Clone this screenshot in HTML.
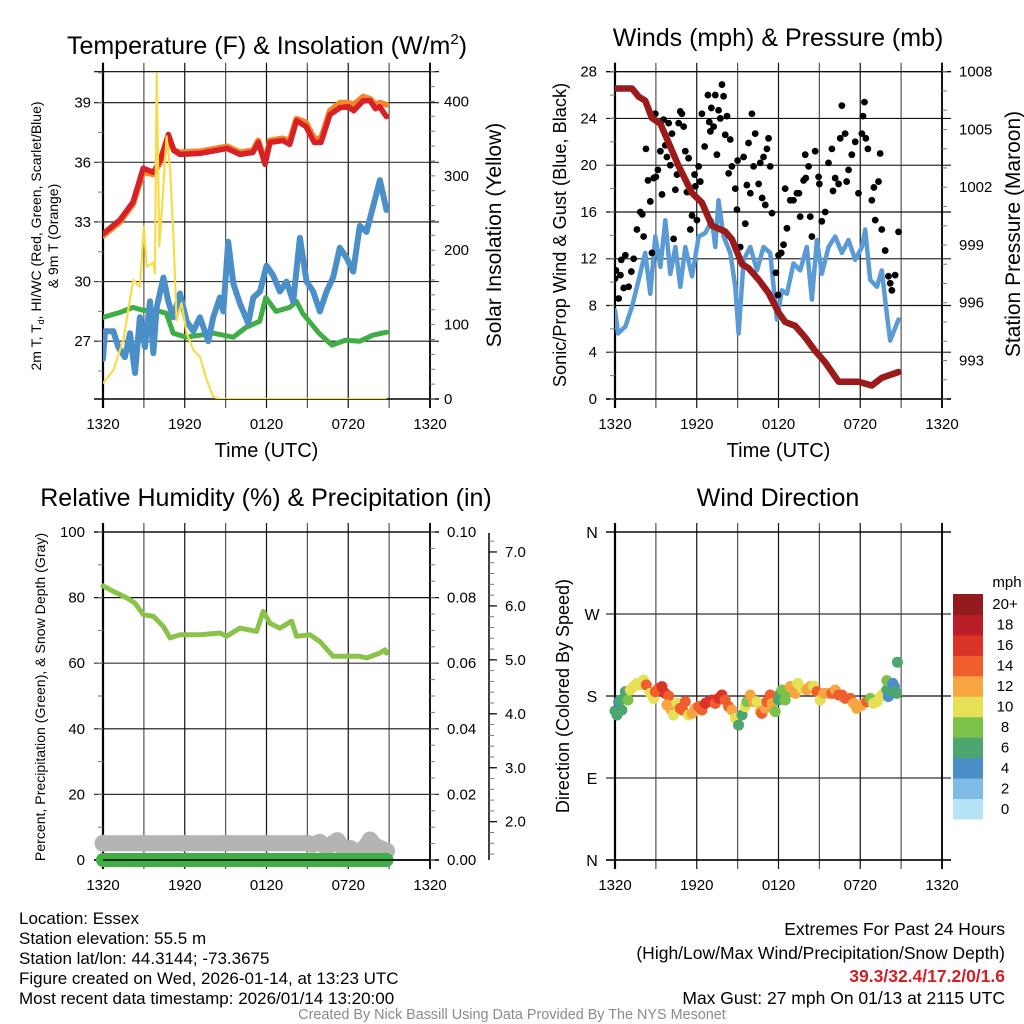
<!DOCTYPE html>
<html><head><meta charset="utf-8">
<style>
html,body{margin:0;padding:0;background:#fff;}
svg{display:block;font-family:"Liberation Sans",Arial,sans-serif;}
</style></head>
<body>
<svg id="chart" width="1024" height="1024" viewBox="0 0 1024 1024" xmlns="http://www.w3.org/2000/svg">
<defs>
<clipPath id="c1"><rect x="103" y="71.7" width="327" height="327.3"/></clipPath>
<clipPath id="c2"><rect x="615" y="71.7" width="327" height="327.3"/></clipPath>
<clipPath id="c3"><rect x="90" y="520" width="360" height="355"/></clipPath>
<clipPath id="c4"><rect x="608" y="532" width="340" height="328"/></clipPath>
</defs>
</svg>
<script>
// ---------- DATA ----------
const xTickLabels = ["1320","1920","0120","0720","1320"];
// Panel 1: temperatures (F) & insolation
const tempHours = [0,1.25,2.2,2.95,3.7,4.2,4.8,5.2,5.65,7.1,9.1,10.05,11.0,11.4,11.9,12.25,13.2,13.7,14.2,14.9,15.5,16.0,16.65,17.4,18.0,18.4,19.1,19.6,20.0,20.3,20.8];
const tempRed = [32.4,33.1,34.0,35.7,35.5,36.1,37.4,36.6,36.4,36.45,36.7,36.4,36.5,37.0,35.9,37.0,37.1,36.9,38.1,37.8,37.0,37.0,38.4,38.75,38.8,38.6,39.1,39.1,38.7,38.8,38.3];
const temp9m = [32.3,33.0,33.9,35.5,35.4,36.0,37.2,36.6,36.5,36.55,36.8,36.5,36.6,37.1,36.0,37.1,37.2,37.1,38.2,38.0,37.2,37.2,38.6,39.0,39.0,38.9,39.3,39.2,38.9,39.0,38.9];
const dewHours = [0,1.25,2.2,2.95,3.9,4.65,5.15,6.1,8.1,9.55,10.5,11.5,11.95,12.7,13.7,14.2,14.65,15.85,16.8,17.8,18.85,19.8,20.8];
const dewVals = [28.2,28.45,28.7,28.55,28.55,28.4,27.4,27.2,27.4,27.2,27.7,28.0,29.2,28.5,28.7,29.0,28.4,27.4,26.8,27.05,27.0,27.3,27.45];
const wcHours = [0,0.15,0.76,1.12,1.61,1.98,2.35,2.71,3.08,3.45,3.69,3.94,4.43,4.79,5.16,5.65,6.14,6.63,7.11,7.73,8.09,8.58,8.83,9.19,9.56,10.05,10.66,11.03,11.52,12.0,12.49,12.98,13.47,13.96,14.45,14.94,15.43,15.92,16.41,16.89,17.38,17.87,18.36,18.85,19.34,19.83,20.32,20.81];
const wcVals = [26.1,27.5,27.5,26.7,26.2,27.4,25.4,28.2,26.7,29.0,26.4,28.7,30.2,29.0,28.2,29.4,28.0,27.5,28.2,27.0,28.2,29.2,28.5,32.0,29.9,28.9,27.9,29.2,29.5,30.8,30.3,29.5,30.0,29.0,32.2,30.0,29.5,28.5,29.5,30.2,31.7,31.2,30.5,32.8,32.5,33.8,35.1,33.6];
const solHours = [0,0.76,1.49,2.22,2.71,3.0,3.2,3.69,3.81,3.94,4.13,4.43,4.67,4.91,5.16,5.4,5.77,6.14,6.63,7.11,7.6,8.09,8.58,20.81];
const solVals = [21,39,79,160,151,232,178,183,169,438,205,286,353,312,223,106,129,88,66,57,26,3,0,0];
// Panel 2: winds & pressure
const windHours = [0,0.22,0.76,1.25,1.74,2.22,2.59,2.96,3.33,3.69,4.06,4.43,4.79,5.16,5.65,6.14,6.63,7.11,7.36,7.6,7.97,8.46,8.83,9.07,9.44,9.93,10.42,10.9,11.39,11.88,12.25,12.62,13.1,13.59,14.08,14.45,14.82,15.18,15.67,16.16,16.65,17.14,17.63,18.12,18.36,18.73,19.22,19.58,19.95,20.2,20.81];
const windVals = [7.6,5.6,6.2,7.9,10.2,12.5,9.0,13.9,11.3,15.3,10.7,13.0,9.6,13.0,10.5,13.9,14.2,15.3,13.0,17.0,13.9,12.5,9.6,5.6,11.9,13.0,11.0,13.0,12.5,6.8,9.3,9.0,11.6,11.0,13.0,8.5,13.6,10.7,13.0,13.9,12.5,13.6,11.9,13.0,14.5,10.2,9.6,11.0,7.3,5.0,6.8];
const gustHours = [0,0.07,0.27,0.46,0.64,0.76,1.0,1.37,1.61,1.86,2.1,2.27,2.42,2.59,2.71,2.84,2.96,3.15,3.33,3.45,3.57,3.69,3.81,3.94,4.06,4.18,4.3,4.43,4.55,4.67,4.79,4.91,5.04,5.16,5.28,5.4,5.53,5.65,5.84,6.01,6.14,6.26,6.38,6.58,6.82,6.92,7.07,7.24,7.36,7.48,7.6,7.73,7.85,7.97,8.09,8.22,8.34,8.46,8.58,8.83,8.95,9.19,9.44,9.56,9.68,9.8,9.93,10.05,10.17,10.29,10.54,10.66,10.9,11.03,11.15,11.27,11.39,11.52,11.81,11.96,12.2,12.37,12.49,12.62,12.86,13.1,13.35,13.59,13.84,13.96,14.21,14.33,14.45,14.69,14.94,15.18,15.43,15.67,15.92,16.16,16.41,16.53,16.65,16.89,17.14,17.38,17.63,17.87,18.12,18.2,18.31,18.41,18.56,18.85,19.1,19.34,19.46,19.58,19.83,20.07,20.32,20.56,20.81,0.4,1.2,2.0,3.0,5.9,7.0,9.0,10.8,12.0,13.5,14.0,15.0,16.0,17.0,19.0,20.2];
const gustVals = [10.3,11.0,8.6,11.9,9.5,12.3,9.6,12.0,14.5,16.0,13.9,21.4,18.7,16.9,12.5,18.9,24.4,19.6,21.2,17.5,23.9,21.7,20.7,23.6,20.0,22.7,13.7,17.9,19.2,23.6,24.6,24.4,23.3,21.2,17.7,20.6,14.5,15.7,19.2,15.3,19.9,18.6,24.4,21.6,26.0,23.7,24.9,23.3,26.0,20.9,24.7,24.0,26.9,25.9,22.6,24.2,19.3,22.2,19.9,18.0,16.2,13.0,20.7,15.0,18.3,21.9,17.6,24.4,19.9,22.7,18.4,20.2,20.7,16.6,21.4,22.3,19.9,15.9,10.8,8.9,12.5,13.2,18.0,14.6,17.0,17.0,17.6,15.6,18.7,20.9,19.9,15.6,13.9,21.2,19.0,15.2,16.0,20.2,21.4,18.9,18.4,22.3,25.1,22.7,19.6,20.9,22.0,17.6,22.7,24.2,25.4,22.3,21.4,17.0,15.3,18.6,21.0,14.5,12.7,10.5,9.3,10.6,14.3,10.6,10.9,15.8,19.0,18.2,22.9,20.4,17.2,12.3,17.6,18.9,18.4,17.8,18.6,18.1,9.9];
const presHours = [0,1.25,1.74,2.22,2.71,3.33,3.94,4.67,5.65,6.38,7.11,8.09,8.58,9.32,9.8,10.54,11.27,12.0,12.49,13.22,13.96,14.69,15.43,16.41,17.87,18.85,19.58,20.81];
const presVals = [1007.13,1007.13,1006.7,1006.5,1005.6,1005.3,1004.3,1003.1,1001.7,1001.2,1000.0,999.7,999.3,998.0,997.8,997.2,996.5,995.5,995.0,994.8,994.2,993.5,992.9,991.9,991.9,991.7,992.1,992.4];
// Panel 3: RH, precip, snow depth
const rhHours = [0,0.76,1.74,2.35,2.96,3.69,4.43,4.91,5.65,7.11,8.58,9.07,10.05,11.27,11.76,12.25,12.98,13.84,14.21,15.18,15.92,16.89,17.87,18.85,19.34,20.32,20.69,20.81];
const rhVals = [83.6,81.9,79.9,78.3,74.8,74.3,71.2,67.7,68.7,68.7,69.2,68.2,70.7,69.7,75.8,72.2,70.7,72.8,68.2,68.7,66.6,62.1,62.1,62.1,61.6,63.1,64.1,63.1];
const precipHours = [0,4,8,12,16,20.81];
const precipVals = [0,0,0,0,0,0];
const snowHours = [0,3,6,9,12,15,15.4,15.9,16.4,16.9,17.2,17.6,18.2,18.8,19.2,19.6,20.0,20.4,20.81];
const snowVals = [1.6,1.6,1.6,1.6,1.6,1.6,1.58,1.62,1.52,1.6,1.65,1.52,1.5,1.42,1.52,1.66,1.55,1.5,1.46];
// Panel 4: wind direction (deg) colored by speed (mph)
const dirHours = [0,0.15,0.27,0.39,0.51,0.76,0.95,1.12,1.37,1.61,1.86,2.1,2.3,2.59,2.84,2.96,3.2,3.45,3.69,3.94,3.81,4.13,4.3,4.55,4.79,4.96,5.16,5.4,5.65,5.89,6.14,6.38,6.63,6.87,7.11,7.36,7.6,7.85,8.09,8.34,8.58,8.83,9.07,9.32,9.56,9.68,9.93,10.17,10.42,10.66,10.78,11.03,11.15,11.39,11.52,11.76,12.0,12.13,12.25,12.49,12.62,12.86,13.23,13.42,13.72,14.08,14.33,14.57,14.82,15.06,15.31,15.55,15.92,16.16,16.41,16.65,16.89,17.26,17.51,17.75,18.12,18.48,18.73,18.97,19.22,19.46,19.71,19.95,19.95,20.07,20.27,20.39,20.51,20.56,20.68,20.73];
const dirVals = [163.5,159.2,173.8,175.6,164.6,184.8,175.6,186.6,190.3,193.9,192.1,197.6,192.1,182.9,177.4,184.8,188.4,190.3,182.9,180,170.1,164.6,159.1,171.9,166.4,164.6,173.8,159.1,160.9,166.4,168.3,164.6,171.9,173.8,175.6,171.9,177.4,181.1,175.6,168.3,164.6,155.4,148.1,159.1,168.3,173.8,181.1,173.8,173.8,162.8,160.9,166.4,173.8,181.1,171.9,162.8,175.6,182.9,186.6,175.6,184.8,190.3,182.9,193.9,188.4,186.6,190.3,191,184.8,175.6,182.9,182.9,182.9,186.6,181.1,181.1,177.4,177.4,171.9,166.4,170.1,173.8,177.4,171.9,173.8,179.3,182.9,186.6,196.9,179.3,186.6,193.9,190.3,184.8,182.9,217.1];
const dirSpeeds = [7,7,5,7,7,7,9,11,11,11,11,11,15,11,11,15,15,17,17,15,13,13,11,11,15,15,15,11,13,13,15,15,17,17,17,15,17,17,15,15,13,11,7,7,11,9,13,13,11,13,15,13,15,15,13,9,7,7,9,9,9,13,13,11,11,13,13,11,15,11,13,13,15,13,15,15,15,15,13,13,13,15,9,11,11,11,11,7,9,5,7,5,5,7,7,7];
const cbLabels = ["0","2","4","6","8","10","12","14","16","18","20+"];
const cbColors = ["#b6e3f6","#7fbce6","#4a8fc8","#4ca66f","#7cc24a","#e5e055","#f6a541","#ef5e2c","#dc3328","#bb1e26","#931a1d"];
const p1Left = [27,30,33,36,39];
const p1Right = [0,100,200,300,400];
const p2Left = [0,4,8,12,16,20,24,28];
const p2Right = [993,996,999,1002,1005,1008];
const p3Left = [0,20,40,60,80,100];
const p3Right = [0,0.02,0.04,0.06,0.08,0.10];
const p3Snow = [2,3,4,5,6,7];
const p4Vals = [0,90,180,270,360];
const p4Labels = ["N","E","S","W","N"];

// ---------- HELPERS ----------
const NS = 'http://www.w3.org/2000/svg';
const svg = document.getElementById('chart');
function mk(tag, attrs, parent) {
  const e = document.createElementNS(NS, tag);
  for (const k in attrs) e.setAttribute(k, attrs[k]);
  (parent || svg).appendChild(e);
  return e;
}
function txt(s, x, y, size, anchor, parent, extra) {
  const t = mk('text', Object.assign({x: x, y: y, 'font-size': size, 'text-anchor': anchor || 'middle', fill: '#000'}, extra || {}), parent);
  t.textContent = s;
  return t;
}
function lin(d0, d1, r0, r1) { return v => r0 + (v - d0) / (d1 - d0) * (r1 - r0); }
function pathOf(xs, ys, fx, fy) {
  let d = '';
  for (let i = 0; i < xs.length; i++) d += (i ? 'L' : 'M') + fx(xs[i]).toFixed(1) + ',' + fy(ys[i]).toFixed(1);
  return d;
}

function frame(name, L, R, T, B, hLines, fy, showX) {
  const g = mk('g', {});
  
  
  const fx = lin(0, 24, L, R);
  for (let h = 0; h <= 24; h += 3) {
    const x = fx(h);
    const ln = mk('line', {x1: x, y1: T - 9, x2: x, y2: B + 9, stroke: (h % 6 === 0) ? '#111' : '#555', 'stroke-width': (h === 0 ? 2 : 1.2)}, g);
    
    
  }
  hLines.forEach((v, i) => {
    const y = fy(v);
    const ln = mk('line', {x1: L - 9, y1: y, x2: R + 9, y2: y, stroke: i % 2 ? '#333' : '#111', 'stroke-width': 1.2}, g);
    
    
  });
  const top = mk('line', {x1: L - 9, y1: T, x2: R + 9, y2: T, stroke: '#000', 'stroke-width': 1.2}, g);
  
  
  const bot = mk('line', {x1: L - 9, y1: B, x2: R + 9, y2: B, stroke: '#000', 'stroke-width': 1.5}, g);
  
  
  const rt = mk('line', {x1: R, y1: T - 9, x2: R, y2: B + 9, stroke: '#000', 'stroke-width': 1.8}, g);
  
  
  const lt = mk('line', {x1: L, y1: T - 9, x2: L, y2: B + 9, stroke: '#000', 'stroke-width': 2.2}, g);
  
  
  xTickLabels.forEach((s, i) => {
    const t = txt(s, fx(i * 6), B + 30, 15, 'middle', g);
    
    
  });
  if (showX) {
    const t = txt('Time (UTC)', (L + R) / 2, B + 58, 20, 'middle', g);
    
    
  }
  return fx;
}
function minorTicks(x, dir, y0, y1, step, fyv, lo, hi, parent) {
  for (let v = lo; v <= hi + 1e-9; v += step) {
    const y = fyv(v);
    if (y < y0 - 0.5 || y > y1 + 0.5) continue;
    const ln = mk('line', {x1: x, y1: y, x2: x + dir * 5, y2: y, stroke: '#777', 'stroke-width': 1}, parent);
    
    
  }
}
function vtitle(s, x, y, size, parent) {
  const t = txt(s, x, y, size, 'middle', parent, {transform: 'rotate(-90 ' + x + ' ' + y + ')'});
  return t;
}

// ---------- PANEL 1 ----------
(function () {
  const L = 103, R = 430, T = 71.7, B = 399;
  const fy = lin(24.09, 40.56, B, T);
  const fyR = lin(0, 440, B, T);
  const fx = frame('temperature', L, R, T, B, p1Left, fy, true);
  const g = mk('g', {});
  
  
  const title = mk('text', {x: 267, y: 54, 'font-size': 25, 'text-anchor': 'middle'}, g);
  
  
  title.innerHTML = 'Temperature (F) &amp; Insolation (W/m<tspan dy="-10" font-size="15">2</tspan><tspan dy="10">)</tspan>';
  p1Left.forEach(v => {
    const t = txt(String(v), L - 12, fy(v) + 5, 15, 'end', g);
    
    
  });
  p1Right.forEach(v => {
    const t = txt(String(v), R + 14, fyR(v) + 5, 15, 'start', g);
    
    
  });
  minorTicks(L, -1, T, B, 1.5, fy, 25.5, 40.5, g);
  minorTicks(R, 1, T, B, 20, fyR, 0, 440, g);
  const lt1 = mk('text', {x: 41, y: 236, 'font-size': 14, 'text-anchor': 'middle', transform: 'rotate(-90 41 236)'}, g);
  
  
  lt1.innerHTML = '2m T, T<tspan dy="3" font-size="9">d</tspan><tspan dy="-3">, HI/WC (Red, Green, Scarlet/Blue)</tspan>';
  const lt2 = vtitle('& 9m T (Orange)', 58, 236, 14, g);
  
  
  const rt = vtitle('Solar Insolation (Yellow)', 501, 235, 21, g);
  
  
  const c = mk('g', {'clip-path': 'url(#c1)'}, g);
  const s9 = mk('path', {d: pathOf(tempHours, temp9m, fx, fy), fill: 'none', stroke: '#f7862a', 'stroke-width': 6, 'stroke-linejoin': 'round', 'stroke-linecap': 'round'}, c);
  
  
  const sr = mk('path', {d: pathOf(tempHours, tempRed, fx, fy), fill: 'none', stroke: '#d82027', 'stroke-width': 5.5, 'stroke-linejoin': 'round', 'stroke-linecap': 'round'}, c);
  
  
  const sd = mk('path', {d: pathOf(dewHours, dewVals, fx, fy), fill: 'none', stroke: '#3fae45', 'stroke-width': 5, 'stroke-linejoin': 'round', 'stroke-linecap': 'round'}, c);
  
  
  const sw = mk('path', {d: pathOf(wcHours, wcVals, fx, fy), fill: 'none', stroke: '#4a8fc8', 'stroke-width': 6, 'stroke-linejoin': 'round', 'stroke-linecap': 'round'}, c);
  
  
  const sy = mk('path', {d: pathOf(solHours, solVals, fx, fyR), fill: 'none', stroke: '#f7dc4a', 'stroke-width': 2.2, 'stroke-linejoin': 'round'}, c);
  
  
})();

// ---------- PANEL 2 ----------
(function () {
  const L = 615, R = 942, T = 71.7, B = 399;
  const fy = lin(0, 28, B, T);
  const fyR = lin(991, 1008, B, T);
  const fx = frame('winds', L, R, T, B, p2Left, fy, true);
  const g = mk('g', {});
  
  
  const title = txt('Winds (mph) & Pressure (mb)', 778, 46, 25, 'middle', g);
  
  
  p2Left.forEach(v => {
    const t = txt(String(v), L - 18, fy(v) + 5, 15, 'end', g);
    
    
  });
  p2Right.forEach(v => {
    const t = txt(String(v), R + 17, fyR(v) + 5, 15, 'start', g);
    
    
  });
  minorTicks(L, -1, T, B, 2, fy, 0, 28, g);
  minorTicks(R, 1, T, B, 1, fyR, 991, 1008, g);
  const lt = vtitle('Sonic/Prop Wind & Gust (Blue, Black)', 566, 235, 18.2, g);
  
  
  const rt = vtitle('Station Pressure (Maroon)', 1020, 234, 21, g);
  
  
  const c = mk('g', {'clip-path': 'url(#c2)'}, g);
  const sw = mk('path', {d: pathOf(windHours, windVals, fx, fy), fill: 'none', stroke: '#5b9bd5', 'stroke-width': 4.5, 'stroke-linejoin': 'round', 'stroke-linecap': 'round'}, c);
  
  
  gustHours.forEach((h, i) => {
    const d = mk('circle', {cx: fx(h), cy: fy(gustVals[i]), r: 3.4, fill: '#000'}, c);
    
    
  });
  const sp = mk('path', {d: pathOf(presHours, presVals, fx, fyR), fill: 'none', stroke: '#9b1b1b', 'stroke-width': 6.5, 'stroke-linejoin': 'round', 'stroke-linecap': 'round'}, c);
  
  
})();

// ---------- PANEL 3 ----------
(function () {
  const L = 103, R = 430, T = 532, B = 860;
  const fy = lin(0, 100, B, T);
  const fyR = lin(0, 0.1, B, T);
  const fyS = lin(1.29, 7.37, B, T);
  const fx = frame('humidity', L, R, T, B, p3Left, fy, false);
  const g = mk('g', {});
  
  
  const title = txt('Relative Humidity (%) & Precipitation (in)', 266, 506, 25, 'middle', g);
  
  
  p3Left.forEach(v => {
    const t = txt(String(v), L - 18, fy(v) + 5, 15, 'end', g);
    
    
  });
  p3Right.forEach(v => {
    const t = txt(v.toFixed(2), R + 17, fyR(v) + 5, 15, 'start', g);
    
    
  });
  minorTicks(L, -1, T, B, 10, fy, 0, 100, g);
  minorTicks(R, 1, T, B, 0.005, fyR, 0, 0.1, g);
  const sa = mk('line', {x1: 489, y1: 533, x2: 489, y2: 860, stroke: '#000', 'stroke-width': 1.5}, g);
  
  
  minorTicks(489, 1, 533, 860, 0.2, fyS, 1.4, 7.2, g);
  p3Snow.forEach(v => {
    const tk = mk('line', {x1: 489, y1: fyS(v), x2: 497, y2: fyS(v), stroke: '#000', 'stroke-width': 1.2}, g);
    
    
    const t = txt(v.toFixed(1), 505, fyS(v) + 5, 15, 'start', g);
    
    
  });
  const lt = vtitle('Percent, Precipitation (Green), & Snow Depth (Gray)', 45, 697, 14.1, g);
  
  
  const c = mk('g', {'clip-path': 'url(#c3)'}, g);
  const sn = mk('path', {d: pathOf(snowHours, snowVals, fx, fyS), fill: 'none', stroke: '#b4b4b4', 'stroke-width': 16, 'stroke-linejoin': 'round', 'stroke-linecap': 'round'}, c);
  
  
  snowHours.forEach((h, i) => {
    const d = mk('circle', {cx: fx(h), cy: fyS(snowVals[i]), r: 8.5, fill: '#b4b4b4'}, c);
    
    
  });
  const pr = mk('path', {d: pathOf(precipHours, precipVals, fx, fyR), fill: 'none', stroke: '#3fae45', 'stroke-width': 14, 'stroke-linecap': 'round'}, c);
  
  
  const rh = mk('path', {d: pathOf(rhHours, rhVals, fx, fy), fill: 'none', stroke: '#8bc34a', 'stroke-width': 5, 'stroke-linejoin': 'round', 'stroke-linecap': 'round'}, c);
  
  
  const bl = mk('line', {x1: L, y1: B, x2: R, y2: B, stroke: '#000', 'stroke-width': 1.5}, g);
  
  
})();

// ---------- PANEL 4 ----------
(function () {
  const L = 615, R = 942, T = 532, B = 860;
  const fy = lin(0, 360, B, T);
  const fx = frame('direction', L, R, T, B, p4Vals, fy, false);
  const g = mk('g', {});
  
  
  const title = txt('Wind Direction', 778, 506, 25, 'middle', g);
  
  
  p4Vals.forEach((v, i) => {
    const t = txt(p4Labels[i], L - 23, fy(v) + 6, 16, 'middle', g);
    
    
  });
  const lt = vtitle('Direction (Colored By Speed)', 569, 696, 18, g);
  
  
  const c = mk('g', {'clip-path': 'url(#c4)'}, g);
  dirHours.forEach((h, i) => {
    const bin = Math.min(10, Math.floor(dirSpeeds[i] / 2));
    const d = mk('circle', {cx: fx(h), cy: fy(dirVals[i]), r: 5.5, fill: cbColors[bin]}, c);
    
    
  });
  const cb = mk('g', {}, g);
  
  
  const cbT = 594, cbH = 225 / 11;
  cbLabels.forEach((s, i) => {
    const y = cbT + (10 - i) * cbH;
    const r = mk('rect', {x: 953, y: y, width: 30, height: cbH + 0.5, fill: cbColors[i]}, cb);
    
    
    const t = txt(s, 1005, y + cbH / 2 + 5, 15, 'middle', cb);
    
    
  });
  const u = txt('mph', 1007, 587, 15, 'middle', cb);
  
  
})();
</script>
<svg width="1024" height="1024" style="position:absolute;left:0;top:0;pointer-events:none" xmlns="http://www.w3.org/2000/svg" font-family="Liberation Sans, Arial, sans-serif">
<g font-size="17" fill="#000">
<text x="19" y="924">Location: Essex</text>
<text x="19" y="944">Station elevation: 55.5 m</text>
<text x="19" y="964">Station lat/lon: 44.3144; -73.3675</text>
<text x="19" y="984">Figure created on Wed, 2026-01-14, at 13:23 UTC</text>
<text x="19" y="1004">Most recent data timestamp: 2026/01/14 13:20:00</text>
</g>
<g font-size="17.5" text-anchor="end" fill="#000">
<text x="1005" y="935">Extremes For Past 24 Hours</text>
<text x="1005" y="959">(High/Low/Max Wind/Precipitation/Snow Depth)</text>
<text x="1005" y="982" fill="#d21f26" font-weight="bold">39.3/32.4/17.2/0/1.6</text>
<text x="1005" y="1004">Max Gust: 27 mph On 01/13 at 2115 UTC</text>
</g>
<text x="512" y="1019" font-size="14.4" fill="#8a8a8a" text-anchor="middle">Created By Nick Bassill Using Data Provided By The NYS Mesonet</text>
</svg>
</body></html>
